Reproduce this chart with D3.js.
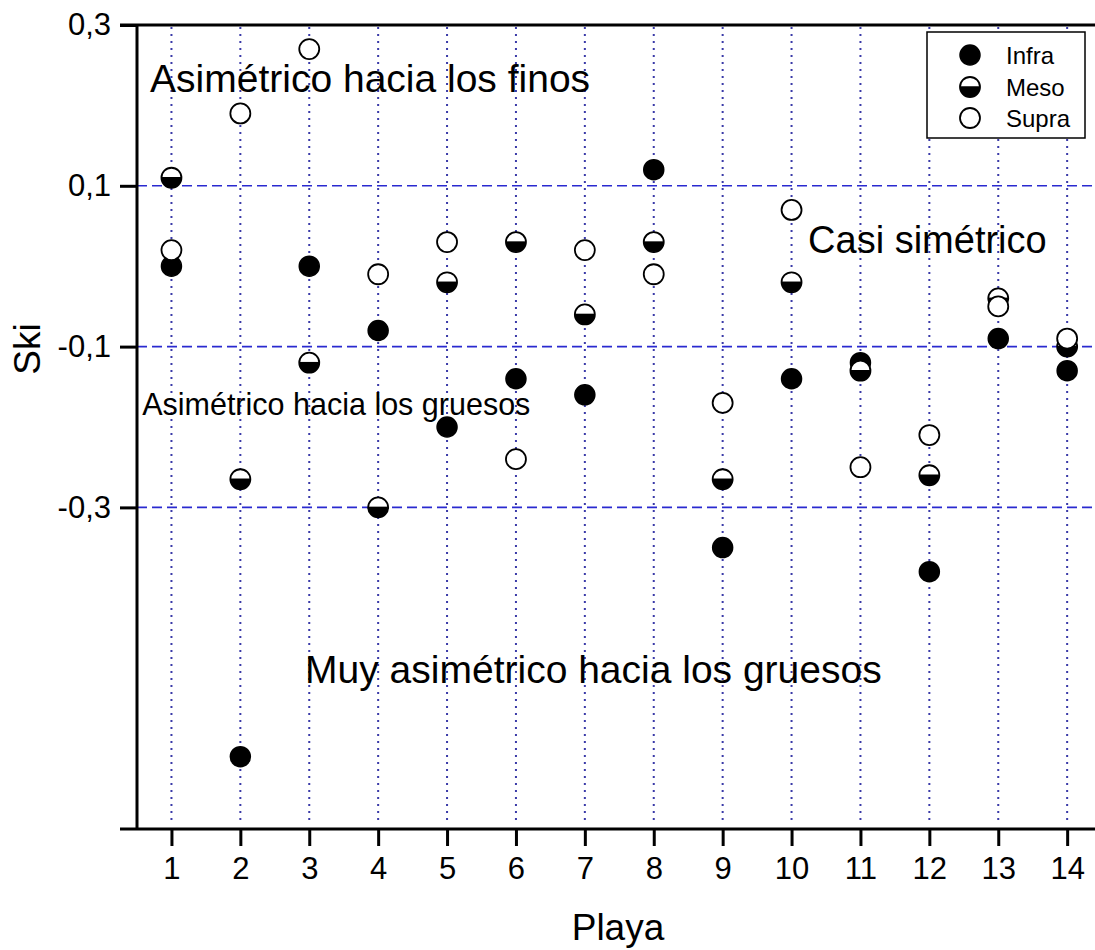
<!DOCTYPE html>
<html>
<head>
<meta charset="utf-8">
<script src="https://cdn.jsdelivr.net/npm/d3@7"></script>
<style>
  html, body { margin: 0; padding: 0; background: #fff; }
  svg { display: block; font-family: "Liberation Sans", Arial, Helvetica, sans-serif; }
</style>
</head>
<body>
<svg id="chart" width="1095" height="950"></svg>
<script>
// Skewness (Ski) per beach and beach zone
const playas = [1, 2, 3, 4, 5, 6, 7, 8, 9, 10, 11, 12, 13, 14];
const infra = [0.00, -0.61, 0.00, -0.08, -0.20, -0.14, -0.16, 0.12, -0.35, -0.14, -0.12, -0.38, -0.09, -0.13];
const meso  = [0.11, -0.265, -0.12, -0.30, -0.02, 0.03, -0.06, 0.03, -0.265, -0.02, -0.13, -0.26, -0.04, -0.10];
const supra = [0.02, 0.19, 0.27, -0.01, 0.03, -0.24, 0.02, -0.01, -0.17, 0.07, -0.25, -0.21, -0.05, -0.09];

const yTicks = [0.3, 0.1, -0.1, -0.3];
const yGrid = [0.1, -0.1, -0.3];
const seriesNames = ["Infra", "Meso", "Supra"];

// region labels, placed in data coordinates
const annotations = [
  { text: "Asimétrico hacia los finos", x: 0.69, y: 0.217, size: 39 },
  { text: "Casi simétrico", x: 10.24, y: 0.016, size: 38 },
  { text: "Asimétrico hacia los gruesos", x: 0.575, y: -0.185, size: 30.5 },
  { text: "Muy asimétrico hacia los gruesos", x: 2.94, y: -0.518, size: 39 }
];

const svg = d3.select("#chart");
const W = 1095;
const plotLeft = 137, plotTop = 25, plotBottom = 829;
const step = 68.9;

const x = d3.scaleLinear().domain([0.5, 14.5]).range([plotLeft, plotLeft + 14 * step]);
const y = d3.scaleLinear().domain([-0.7, 0.3]).range([plotBottom, plotTop]);
const fmt = v => d3.format(".1f")(v).replace(".", ",").replace("−", "-");

// grid
const grid = svg.append("g");
grid.selectAll("line.v").data(playas).join("line")
  .attr("x1", d => x(d)).attr("x2", d => x(d))
  .attr("y1", plotTop + 2).attr("y2", plotBottom - 6)
  .attr("stroke", "#3a3aa8").attr("stroke-width", 2)
  .attr("stroke-dasharray", "2,5");
grid.selectAll("line.h").data(yGrid).join("line")
  .attr("x1", plotLeft).attr("x2", W)
  .attr("y1", d => y(d)).attr("y2", d => y(d))
  .attr("stroke", "#2a2ad0").attr("stroke-width", 1.6)
  .attr("stroke-dasharray", "10,5");

// region annotations
svg.append("g").selectAll("text").data(annotations).join("text")
  .attr("x", d => x(d.x)).attr("y", d => y(d.y))
  .attr("font-size", d => d.size).attr("fill", "#000")
  .text(d => d.text);

// markers
const R = 10;
const halfPath = `M${-R},0 A${R},${R} 0 0 0 ${R},0 Z`;
function drawMarker(g, kind) {
  if (kind === "Infra") {
    g.append("circle").attr("r", R).attr("fill", "#000").attr("stroke", "#000").attr("stroke-width", 1.5);
  } else if (kind === "Meso") {
    g.append("circle").attr("r", R).attr("fill", "#fff");
    g.append("path").attr("d", halfPath).attr("fill", "#000");
    g.append("line").attr("x1", -R).attr("x2", R).attr("stroke", "#000").attr("stroke-width", 1.5);
    g.append("circle").attr("r", R).attr("fill", "none").attr("stroke", "#000").attr("stroke-width", 1.8);
  } else {
    g.append("circle").attr("r", R).attr("fill", "#fff").attr("stroke", "#000").attr("stroke-width", 1.8);
  }
}
const series = [["Infra", infra], ["Meso", meso], ["Supra", supra]];
const pts = svg.append("g");
series.forEach(([name, vals]) => {
  vals.forEach((v, i) => {
    const g = pts.append("g").attr("transform", `translate(${x(playas[i])},${y(v)})`);
    drawMarker(g, name);
  });
});

// axes
const axisG = svg.append("g");
const yAxis = d3.axisLeft(y).tickValues(yTicks).tickSize(17).tickSizeOuter(0).tickPadding(9).tickFormat(fmt);
const ya = axisG.append("g").attr("transform", `translate(${plotLeft},0)`).call(yAxis);
ya.select(".domain").remove();
ya.selectAll(".tick line").attr("stroke", "#000").attr("stroke-width", 3);
ya.selectAll(".tick text").attr("font-size", 31).attr("fill", "#000")
  .attr("font-family", "Liberation Sans, Arial, sans-serif");

const xAxis = d3.axisBottom(x).tickValues(playas).tickSize(17).tickSizeOuter(0).tickPadding(11).tickFormat(d3.format("d"));
const xa = axisG.append("g").attr("transform", `translate(0,${plotBottom})`).call(xAxis);
xa.select(".domain").remove();
xa.selectAll(".tick line").attr("stroke", "#000").attr("stroke-width", 3);
xa.selectAll(".tick text").attr("font-size", 31).attr("fill", "#000")
  .attr("font-family", "Liberation Sans, Arial, sans-serif");

// frame lines
axisG.append("line").attr("x1", plotLeft).attr("x2", plotLeft).attr("y1", plotTop).attr("y2", plotBottom)
  .attr("stroke", "#000").attr("stroke-width", 3);
axisG.append("line").attr("x1", plotLeft - 17).attr("x2", W + 10).attr("y1", plotTop).attr("y2", plotTop)
  .attr("stroke", "#000").attr("stroke-width", 3);
axisG.append("line").attr("x1", plotLeft - 17).attr("x2", W + 10).attr("y1", plotBottom).attr("y2", plotBottom)
  .attr("stroke", "#000").attr("stroke-width", 3);
axisG.append("line").attr("x1", x(14.5)).attr("x2", x(14.5)).attr("y1", plotTop).attr("y2", plotBottom)
  .attr("stroke", "#000").attr("stroke-width", 3);

// axis titles
svg.append("text").attr("x", 618).attr("y", 940).attr("text-anchor", "middle")
  .attr("font-size", 37).attr("fill", "#000").text("Playa");
svg.append("text").attr("transform", "translate(40,349) rotate(-90)").attr("text-anchor", "middle")
  .attr("font-size", 37).attr("fill", "#000").text("Ski");

// legend
const lg = svg.append("g");
lg.append("rect").attr("x", 927).attr("y", 32).attr("width", 158).attr("height", 106)
  .attr("fill", "#fff").attr("stroke", "#000").attr("stroke-width", 1.5);
const legY = [55, 87, 118];
seriesNames.forEach((name, i) => {
  const g = lg.append("g").attr("transform", `translate(970,${legY[i]})`);
  drawMarker(g, name);
  lg.append("text").attr("x", 1006).attr("y", legY[i] + 9)
    .attr("font-size", 24).attr("fill", "#000").text(name);
});
</script>
</body>
</html>
